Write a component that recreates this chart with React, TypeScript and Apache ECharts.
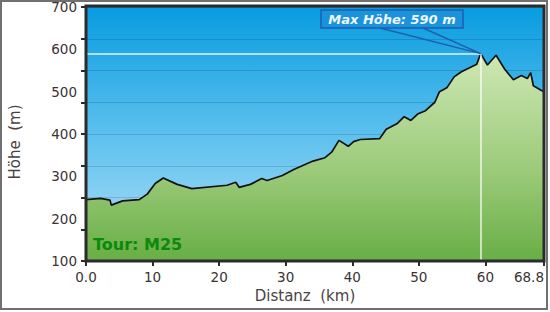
import React, { useEffect, useRef } from "react";
import * as echarts from "echarts";

const distanceKm = [
  0, 2.2, 3.6, 3.8, 5.5, 8.0, 9.2, 10.4, 11.6, 13.7, 15.9, 21.2, 22.5, 23.0, 24.7, 26.4, 27.2,
  29.5, 31.2, 34.1, 35.9, 36.9, 38.0, 39.4, 40.2, 41.2, 44.1, 45.1, 46.7, 47.8, 48.8, 49.9, 51.0,
  52.4, 53.1, 54.2, 55.3, 56.4, 58.7, 59.3, 60.3, 61.6, 62.9, 64.2, 65.4, 66.3, 66.8, 67.2, 68.3, 68.8,
];
const elevationM = [
  245, 248, 244, 232, 242, 245, 258, 283, 296, 281, 271, 279, 286, 274, 281, 295, 290,
  302, 316, 336, 344, 357, 385, 371, 382, 387, 389, 411, 424, 441, 432, 448, 455,
  475, 500, 509, 535, 547, 565, 590, 563, 586, 553, 528, 538, 531, 545, 514, 504, 500,
];
const xMax = 68.8;
const xInterval = 10;
const yLabelTicks = [100, 200, 300, 400, 500, 600, 700];
const yGridDivisions = 8;
const tourName = "Tour: M25";
const xAxisTitle = "Distanz  (km)";
const yAxisTitle = "Höhe  (m)";

const FONT = "'DejaVu Sans', Verdana, sans-serif";

export default function App() {
  const ref = useRef<HTMLDivElement>(null);
  useEffect(() => {
    const chart = echarts.init(ref.current!, null, { renderer: "svg" });
    const maxH = Math.max(...elevationM);
    const peakIdx = elevationM.indexOf(maxH);
    const peakKm = distanceKm[peakIdx];
    const yMin = yLabelTicks[0];
    const yMax = yLabelTicks[yLabelTicks.length - 1];
    const data = distanceKm.map((d, i) => [d, elevationM[i]]);

    const grid = { left: 86, top: 6, right: 6, bottom: 51 };

    chart.setOption({
      animation: false,
      grid: {
        ...grid,
        show: true,
        borderWidth: 0,
        backgroundColor: new echarts.graphic.LinearGradient(0, 0, 0, 1, [
          { offset: 0, color: "#089ce0" },
          { offset: 0.5, color: "#5cc0ee" },
          { offset: 1, color: "#b4e1f8" },
        ]),
      },
      xAxis: {
        type: "value",
        min: 0,
        max: xMax,
        interval: xInterval,
        axisLine: { show: false },
        axisTick: { show: true, length: 5, lineStyle: { color: "#2b2b2b", width: 2 } },
        splitLine: { show: false },
        axisLabel: {
          margin: 9,
          color: "#3a3333",
          fontSize: 13.5,
          fontFamily: FONT,
          showMaxLabel: true,
          alignMaxLabel: "right",
          formatter: (v: number) => (v === 0 ? "0.0" : String(v)),
        },
      },
      yAxis: [
        {
          type: "value",
          min: yMin,
          max: yMax,
          interval: yLabelTicks[1] - yLabelTicks[0],
          axisLine: { show: false },
          axisTick: { show: false },
          splitLine: { show: false },
          axisLabel: { margin: 9, color: "#3a3333", fontSize: 13.5, fontFamily: FONT },
        },
        {
          type: "value",
          min: 0,
          max: yGridDivisions,
          interval: 1,
          position: "left",
          z: 3,
          axisLine: { show: false },
          axisTick: { show: true, length: 5, lineStyle: { color: "#2b2b2b", width: 2 } },
          axisLabel: { show: false },
          splitLine: { show: true, lineStyle: { color: "rgba(0,0,0,0.14)", width: 1 } },
        },
      ],
      series: [
        {
          type: "line",
          data,
          yAxisIndex: 0,
          symbol: "none",
          lineStyle: { color: "#111", width: 1.7 },
          areaStyle: {
            origin: "start",
            opacity: 1,
            color: new echarts.graphic.LinearGradient(0, 0, 0, 1, [
              { offset: 0, color: "#cee8b4" },
              { offset: 0.6, color: "#98c876" },
              { offset: 1, color: "#68ae45" },
            ]),
          },
          markLine: {
            silent: true,
            symbol: ["none", "none"],
            label: { show: false },
            lineStyle: { color: "rgba(255,255,255,0.85)", width: 1.5, type: "solid" },
            data: [
              [{ coord: [0, maxH] }, { coord: [peakKm, maxH] }],
              [{ coord: [peakKm, maxH] }, { coord: [peakKm, yMin] }],
            ],
          },
        },
      ],
    });

    const [px, py] = chart.convertToPixel({ seriesIndex: 0 }, [peakKm, maxH]) as number[];
    const boxW = 142;
    const boxH = 18;
    const boxX = 321;
    const boxY = 10;

    chart.setOption({
      graphic: [
        {
          type: "rect",
          silent: true,
          z: 100,
          shape: { x: 1, y: 1, width: 546, height: 308 },
          style: { fill: "none", stroke: "#707070", lineWidth: 2 },
        },
        {
          type: "rect",
          silent: true,
          z: 100,
          shape: { x: 86, y: 6, width: 458, height: 255 },
          style: { fill: "none", stroke: "#2b2b2b", lineWidth: 3 },
        },
        {
          type: "polyline",
          silent: true,
          z: 101,
          shape: { points: [[boxX + 59, boxY + boxH], [px, py], [boxX + 102, boxY + boxH]] },
          style: { fill: "none", stroke: "#1d5fae", lineWidth: 1.4 },
        },
        {
          type: "rect",
          silent: true,
          z: 102,
          shape: { x: boxX, y: boxY, width: boxW, height: boxH },
          style: { fill: "#1b92dc", stroke: "#1d5fae", lineWidth: 1.5 },
        },
        {
          type: "text",
          silent: true,
          z: 103,
          x: boxX + boxW / 2,
          y: boxY + boxH / 2 + 0.5,
          style: {
            text: `Max Höhe: ${maxH} m`,
            fill: "#eef8ff",
            fontSize: 13,
            fontWeight: "bold",
            fontStyle: "italic",
            fontFamily: FONT,
            align: "center",
            verticalAlign: "middle",
            textAlign: "center",
            textVerticalAlign: "middle",
          },
        },
        {
          type: "text",
          silent: true,
          z: 103,
          x: 93,
          y: 244,
          style: {
            text: tourName,
            fill: "#0a8a0a",
            fontSize: 16,
            fontWeight: "bold",
            fontFamily: FONT,
            align: "left",
            verticalAlign: "middle",
            textAlign: "left",
            textVerticalAlign: "middle",
          },
        },
        {
          type: "text",
          silent: true,
          z: 103,
          x: 305,
          y: 296,
          style: {
            text: xAxisTitle,
            fill: "#4a4242",
            fontSize: 15,
            fontFamily: FONT,
            align: "center",
            verticalAlign: "middle",
            textAlign: "center",
            textVerticalAlign: "middle",
          },
        },
        {
          type: "text",
          silent: true,
          z: 103,
          x: 15,
          y: 142,
          rotation: Math.PI / 2,
          style: {
            text: yAxisTitle,
            fill: "#4a4242",
            fontSize: 15,
            fontFamily: FONT,
            align: "center",
            verticalAlign: "middle",
            textAlign: "center",
            textVerticalAlign: "middle",
          },
        },
      ],
    });

    return () => chart.dispose();
  }, []);

  return (
    <div
      ref={ref}
      style={{ position: "fixed", left: 0, top: 0, width: 550, height: 312, background: "#fff" }}
    />
  );
}
